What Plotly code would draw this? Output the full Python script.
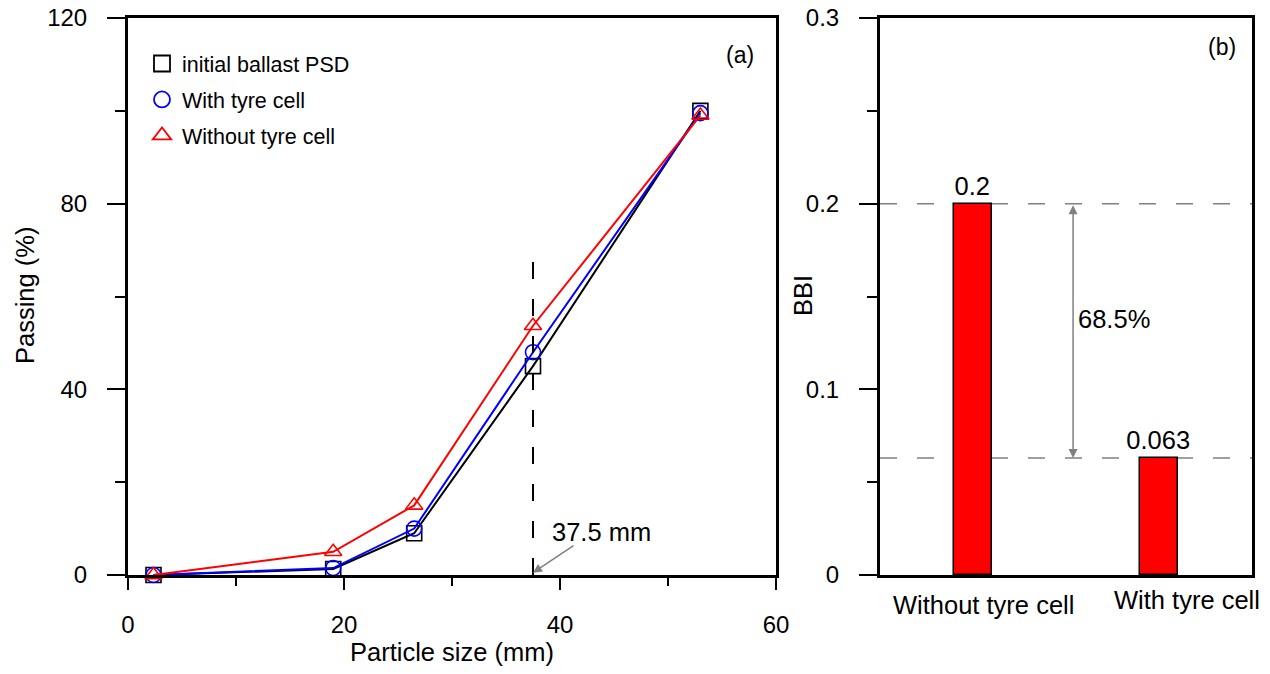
import plotly.graph_objects as go

# ---------------- data ----------------
particle_size = [2.36, 19, 26.5, 37.5, 53]
initial_psd = [0, 1.3, 9, 45, 100]
with_tyre = [0, 1.5, 10, 48, 99.5]
without_tyre = [0, 5, 15, 53.7, 99]

bbi_categories = ["Without tyre cell", "With tyre cell"]
bbi_values = [0.2, 0.063]
bbi_labels = ["0.2", "0.063"]
reduction_label = "68.5%"
critical_size = 37.5

FONT = "Liberation Sans, Arial, sans-serif"
TXT = 25.5  # titles / annotations
W, H = 1270, 674
OFF = 8  # page body margin of the browser
# target plot frame in screen pixels
SX0, SX1, SY0, SY1 = 128, 1252, 18, 575
ML = SX0 - OFF
MT = SY0 - OFF
MR = W - (SX1 - OFF)
MB = H - (SY1 - OFF)
PW = W - ML - MR
PH = H - MT - MB


def px2paper_x(px):
    return (px - SX0) / PW


def px2paper_y(py):
    return (SY1 - py) / PH


fig = go.Figure()

series = [
    ("initial ballast PSD", initial_psd, "black", "square-open"),
    ("With tyre cell", with_tyre, "#0000FF", "circle-open"),
    ("Without tyre cell", without_tyre, "#FF0000", "triangle-up-open"),
]

for i, (name, vals, col, sym) in enumerate(series):
    fig.add_trace(go.Scatter(
        x=particle_size, y=vals, mode="lines+markers", name=name,
        line=dict(color=col, width=2),
        marker=dict(symbol=sym, size=15, color=col, line=dict(color=col, width=1.6)),
        cliponaxis=False, showlegend=False, xaxis="x", yaxis="y",
    ))
    # legend entry (marker only, like the reference)
    fig.add_trace(go.Scatter(
        x=[None], y=[None], mode="markers", name=name, legendgroup=f"g{i}",
        marker=dict(symbol=sym, size=22, color=col, line=dict(color=col, width=1.8)),
        showlegend=True, xaxis="x", yaxis="y",
    ))

fig.add_trace(go.Bar(
    x=bbi_categories, y=bbi_values, width=0.2,
    marker=dict(color="#FF0000", line=dict(color="black", width=1.5)),
    text=bbi_labels, textposition="outside", cliponaxis=False, constraintext="none",
    textfont=dict(size=TXT, color="black", family=FONT),
    showlegend=False, xaxis="x2", yaxis="y2",
))

axis_common = dict(
    showline=True, linecolor="black", linewidth=3, mirror=True, automargin=False,
    showgrid=False, zeroline=False, ticks="outside", tickcolor="black",
    tickwidth=2, tickfont=dict(size=24, color="black", family=FONT),
    ticklabeloverflow="allow",
)

dom_left = [0, px2paper_x(776)]
dom_right = [px2paper_x(880), 1]

fig.update_layout(
    template="none",
    width=W, height=H,
    margin=dict(l=ML, r=MR, t=MT, b=MB, autoexpand=False),
    paper_bgcolor="white", plot_bgcolor="white",
    font=dict(family=FONT, size=24, color="black"),
    xaxis=dict(**axis_common, domain=dom_left, range=[0, 60], dtick=20, ticklen=12,
               ticklabelstandoff=14,
               minor=dict(dtick=10, ticks="outside", ticklen=8, tickwidth=2, tickcolor="black"),
               title=dict(text="Particle size (mm)", font=dict(size=TXT, family=FONT), standoff=7),
               anchor="y"),
    yaxis=dict(**axis_common, domain=[0, 1], range=[0, 120], dtick=40, ticklen=18,
               ticklabelstandoff=15,
               minor=dict(dtick=20, ticks="outside", ticklen=10, tickwidth=2, tickcolor="black"),
               anchor="x"),
    xaxis2=dict(**axis_common, domain=dom_right, range=[-0.5, 1.5], type="category",
                showticklabels=False, anchor="y2"),
    yaxis2=dict(**axis_common, domain=[0, 1], range=[0, 0.3], dtick=0.1, ticklen=18,
                ticklabelstandoff=15,
                minor=dict(dtick=0.05, ticks="outside", ticklen=10, tickwidth=2, tickcolor="black"),
                anchor="x2"),
    legend=dict(x=px2paper_x(142), y=px2paper_y(43), xanchor="left", yanchor="top",
                font=dict(size=21.5, family=FONT), bgcolor="rgba(0,0,0,0)",
                itemwidth=30, tracegroupgap=5),
    bargap=0,
)
fig.layout.xaxis2.ticks = ""

# vertical dashed line at 37.5 mm
fig.add_shape(type="line", xref="x", yref="y", x0=critical_size, x1=critical_size,
              y0=0, y1=68, line=dict(color="black", width=2, dash="17px,20px"))

# arrow + label 37.5 mm
fig.add_annotation(xref="x", yref="y", x=critical_size, y=0.5, ax=42, ay=-28,
                   showarrow=True, arrowhead=2, arrowsize=1.2, arrowwidth=1.5,
                   arrowcolor="#808080", text="")
fig.add_annotation(xref="x", yref="y", x=critical_size + 1.6, y=9.3, text=f"{critical_size} mm",
                   showarrow=False, xanchor="left", yanchor="middle",
                   font=dict(size=TXT, family=FONT))

# panel labels
fig.add_annotation(xref="paper", yref="paper", x=px2paper_x(740), y=px2paper_y(55),
                   text="(a)", showarrow=False, xanchor="center", yanchor="middle",
                   font=dict(size=23, family=FONT))
fig.add_annotation(xref="paper", yref="paper", x=px2paper_x(1222), y=px2paper_y(47),
                   text="(b)", showarrow=False, xanchor="center", yanchor="middle",
                   font=dict(size=23, family=FONT))

# y axis titles
fig.add_annotation(xref="paper", yref="paper", x=px2paper_x(25), y=px2paper_y(296),
                   text="Passing (%)", textangle=-90, showarrow=False,
                   xanchor="center", yanchor="middle", font=dict(size=TXT, family=FONT))
fig.add_annotation(xref="paper", yref="paper", x=px2paper_x(803), y=px2paper_y(296),
                   text="BBI", textangle=-90, showarrow=False,
                   xanchor="center", yanchor="middle", font=dict(size=TXT, family=FONT))

# category labels for bar panel
for cat, shift, py in zip(bbi_categories, [10, 28], [605, 600]):
    fig.add_annotation(xref="x2", yref="paper", x=cat, y=px2paper_y(py), xshift=shift,
                       text=cat, showarrow=False, xanchor="center", yanchor="middle",
                       font=dict(size=TXT, family=FONT))

# dashed reference lines in bar panel
for v in bbi_values:
    fig.add_shape(type="line", xref="x2 domain", yref="y2", x0=0, x1=1, y0=v, y1=v,
                  line=dict(color="#808080", width=1.5, dash="17px,20px"), layer="below")

# double-headed arrow between the two values
fig.add_annotation(xref="x2", yref="y2", x=0.538, y=bbi_values[1],
                   axref="x2", ayref="y2", ax=0.538, ay=bbi_values[0],
                   showarrow=True, arrowhead=2, startarrowhead=2, arrowside="end+start",
                   arrowsize=1.2, startarrowsize=1.2, arrowwidth=1.5, arrowcolor="#808080", text="")
fig.add_annotation(xref="x2", yref="y2", x=0.555, y=0.1378, text=reduction_label,
                   xanchor="left", yanchor="middle", showarrow=False,
                   font=dict(size=TXT, family=FONT))

fig.write_html("out.html")
